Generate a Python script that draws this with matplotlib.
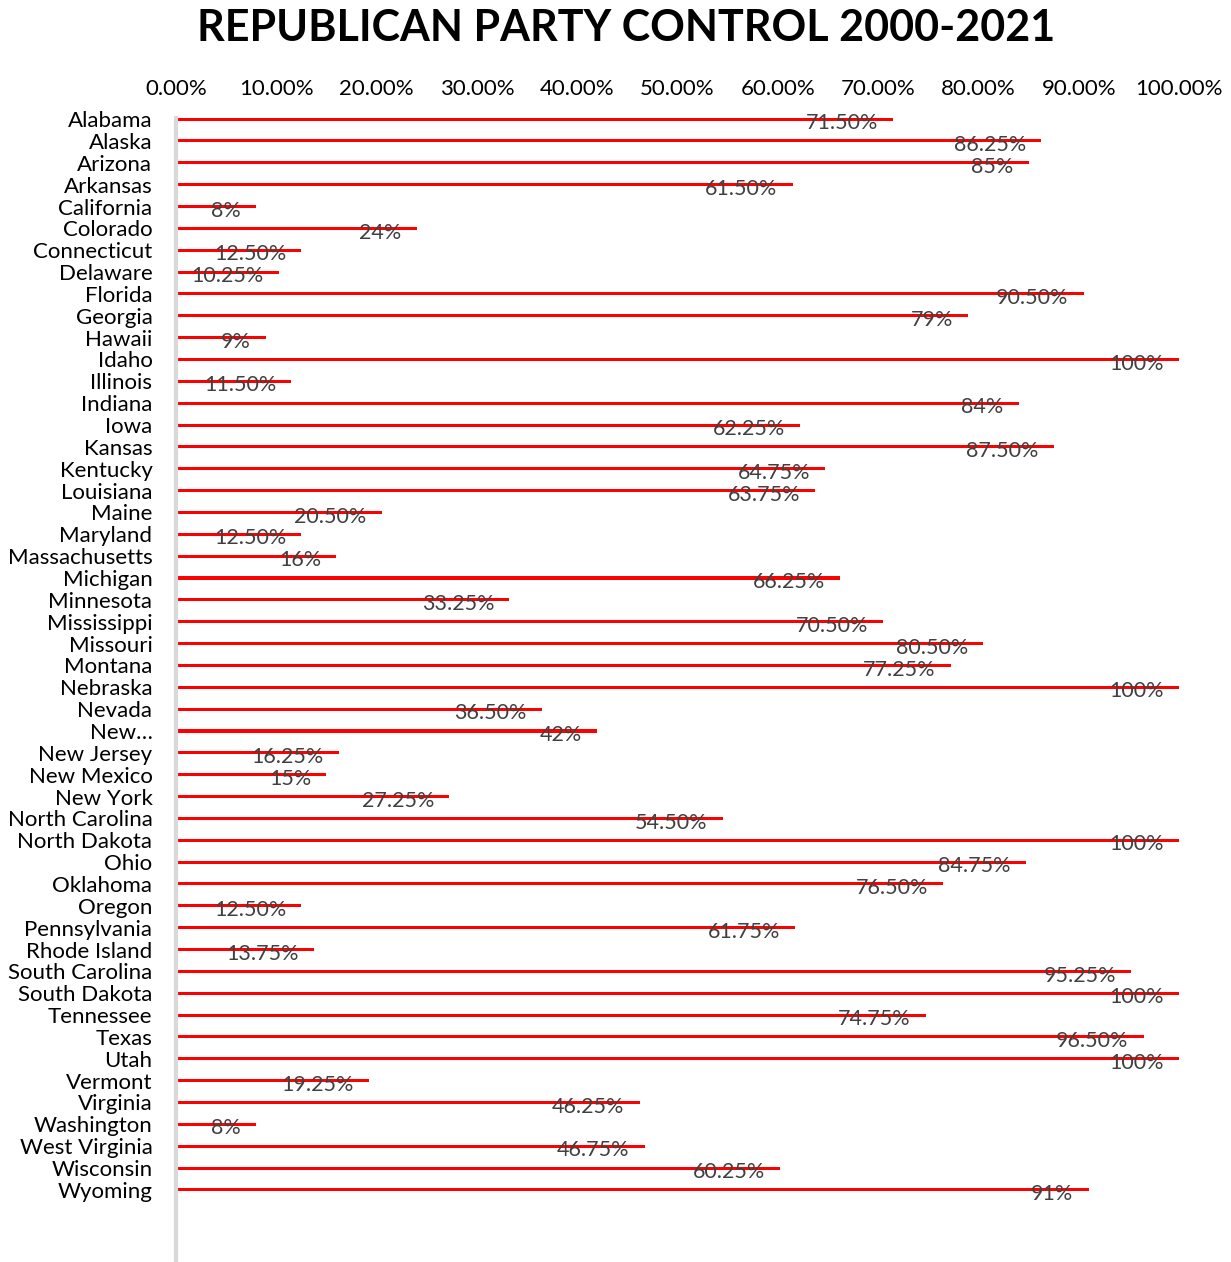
import matplotlib.pyplot as plt
import numpy as np
from matplotlib.ticker import FuncFormatter

states = ['Alabama', 'Alaska', 'Arizona', 'Arkansas', 'California', 'Colorado',
          'Connecticut', 'Delaware', 'Florida', 'Georgia', 'Hawaii', 'Idaho',
          'Illinois', 'Indiana', 'Iowa', 'Kansas', 'Kentucky', 'Louisiana',
          'Maine', 'Maryland', 'Massachusetts', 'Michigan', 'Minnesota',
          'Mississippi', 'Missouri', 'Montana', 'Nebraska', 'Nevada', 'New…',
          'New Jersey', 'New Mexico', 'New York', 'North Carolina',
          'North Dakota', 'Ohio', 'Oklahoma', 'Oregon', 'Pennsylvania',
          'Rhode Island', 'South Carolina', 'South Dakota', 'Tennessee',
          'Texas', 'Utah', 'Vermont', 'Virginia', 'Washington',
          'West Virginia', 'Wisconsin', 'Wyoming']
control = [0.715, 0.8625, 0.85, 0.615, 0.08, 0.24, 0.125, 0.1025, 0.905, 0.79,
           0.09, 1.0, 0.115, 0.84, 0.6225, 0.875, 0.6475, 0.6375, 0.205, 0.125,
           0.16, 0.6625, 0.3325, 0.705, 0.805, 0.7725, 1.0, 0.365, 0.42,
           0.1625, 0.15, 0.2725, 0.545, 1.0, 0.8475, 0.765, 0.125, 0.6175,
           0.1375, 0.9525, 1.0, 0.7475, 0.965, 1.0, 0.1925, 0.4625, 0.08,
           0.4675, 0.6025, 0.91]
labels = ['71.50%', '86.25%', '85%', '61.50%', '8%', '24%', '12.50%', '10.25%',
          '90.50%', '79%', '9%', '100%', '11.50%', '84%', '62.25%', '87.50%',
          '64.75%', '63.75%', '20.50%', '12.50%', '16%', '66.25%', '33.25%',
          '70.50%', '80.50%', '77.25%', '100%', '36.50%', '42%', '16.25%',
          '15%', '27.25%', '54.50%', '100%', '84.75%', '76.50%', '12.50%',
          '61.75%', '13.75%', '95.25%', '100%', '74.75%', '96.50%', '100%',
          '19.25%', '46.25%', '8%', '46.75%', '60.25%', '91%']

plt.rcParams['font.family'] = ['Lato', 'DejaVu Sans']

fig = plt.figure(figsize=(12.31, 12.62), dpi=100)
ax = fig.add_axes([176 / 1231, 0, (1179 - 176) / 1231, 1 - 118 / 1262])

y = np.arange(len(states))
ax.barh(y, control, height=0.14, color='#ff0000', zorder=2)

for yi, v, lab in zip(y, control, labels):
    ax.annotate(lab, (v, yi), xytext=(-11, -3), textcoords='offset points',
                ha='right', va='center', fontsize=15.5, color='#404040', zorder=3)

ax.set_xlim(0, 1)
ax.set_ylim(52.3, -0.05)
ax.set_yticks(y)
ax.set_yticklabels(states, fontsize=16)
ax.set_xticks(np.arange(0, 1.01, 0.1))
ax.xaxis.set_major_formatter(FuncFormatter(lambda v, p: f'{v * 100:.2f}%'))
ax.xaxis.tick_top()
ax.tick_params(axis='x', length=0, labelsize=16, pad=14)
ax.tick_params(axis='y', length=0, pad=17)

for s in ['top', 'right', 'bottom']:
    ax.spines[s].set_visible(False)
ax.spines['left'].set_color('#d9d9d9')
ax.spines['left'].set_linewidth(3)

fig.text(626 / 1231, 1 - 28 / 1262, 'REPUBLICAN PARTY CONTROL 2000-2021', ha='center',
         va='center', fontsize=31, fontweight='bold')

fig.savefig('out.png', dpi=100)
